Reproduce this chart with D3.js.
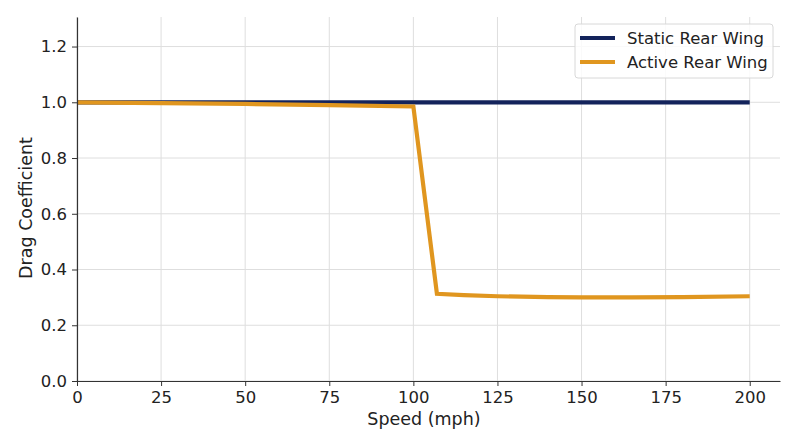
<!DOCTYPE html>
<html>
<head>
<meta charset="utf-8">
<script src="https://cdn.jsdelivr.net/npm/d3@7"></script>
<style>
  body { margin: 0; background: #fff; }
  svg { display: block; font-family: "DejaVu Sans", sans-serif; }
</style>
</head>
<body>
<div id="chart"></div>
<script>
// Data
const staticSpeed = [0, 200];
const staticDrag = [1.0, 1.0];
const activeSpeed = [0, 25, 50, 75, 100, 107, 115, 125, 140, 150, 165, 180, 200];
const activeDrag = [1.0, 0.997, 0.994, 0.99, 0.985, 0.313, 0.308, 0.304, 0.301, 0.3, 0.3, 0.301, 0.304];
const xTicks = [0, 25, 50, 75, 100, 125, 150, 175, 200];
const yTicks = [0, 0.2, 0.4, 0.6, 0.8, 1.0, 1.2];
const seriesNames = ["Static Rear Wing", "Active Rear Wing"];
const seriesColors = ["#13235b", "#e0961f"];

const width = 800, height = 447;
const marginLeft = 77, marginRight = 20, marginTop = 17, marginBottom = 66;

const x = d3.scaleLinear().domain([0, 209]).range([marginLeft, width - marginRight]);
const y = d3.scaleLinear().domain([0, 1.306]).range([height - marginBottom, marginTop]);

const svg = d3.select("#chart").append("svg")
  .attr("width", width)
  .attr("height", height);

// Grid
svg.append("g")
  .selectAll("line")
  .data(xTicks)
  .join("line")
  .attr("x1", d => x(d)).attr("x2", d => x(d))
  .attr("y1", y(0)).attr("y2", marginTop)
  .attr("stroke", "#dedede").attr("stroke-width", 1);
svg.append("g")
  .selectAll("line")
  .data(yTicks)
  .join("line")
  .attr("x1", marginLeft).attr("x2", width - marginRight)
  .attr("y1", d => y(d)).attr("y2", d => y(d))
  .attr("stroke", "#dedede").attr("stroke-width", 1);

// Lines
const series = [
  staticSpeed.map((s, i) => [s, staticDrag[i]]),
  activeSpeed.map((s, i) => [s, activeDrag[i]])
];
const line = d3.line().x(d => x(d[0])).y(d => y(d[1]));
svg.append("g")
  .selectAll("path")
  .data(series)
  .join("path")
  .attr("d", line)
  .attr("fill", "none")
  .attr("stroke", (d, i) => seriesColors[i])
  .attr("stroke-width", 4.2)
  .attr("stroke-linejoin", "miter");

// Axes
const styleAxis = g => {
  g.select(".domain").attr("stroke", "#333").attr("stroke-width", 1.2);
  g.selectAll(".tick line").attr("stroke", "#333");
  g.selectAll(".tick text").attr("fill", "#222").attr("font-size", "16.5px")
    .attr("font-family", "DejaVu Sans, sans-serif");
};
svg.append("g")
  .attr("transform", `translate(0,${y(0)})`)
  .call(d3.axisBottom(x).tickValues(xTicks).tickSize(5).tickPadding(5).tickSizeOuter(0))
  .call(styleAxis);
svg.append("g")
  .attr("transform", `translate(${marginLeft},0)`)
  .call(d3.axisLeft(y).tickValues(yTicks).tickFormat(d3.format(".1f")).tickSize(5).tickPadding(5).tickSizeOuter(0))
  .call(styleAxis);

// Axis labels
svg.append("text")
  .attr("x", 424)
  .attr("y", 425)
  .attr("text-anchor", "middle")
  .attr("font-size", "17.5px")
  .attr("fill", "#222")
  .text("Speed (mph)");
svg.append("text")
  .attr("transform", "translate(32,208) rotate(-90)")
  .attr("text-anchor", "middle")
  .attr("font-size", "17.5px")
  .attr("fill", "#222")
  .text("Drag Coefficient");

// Legend
const legend = svg.append("g").attr("transform", "translate(575,24)");
legend.append("rect")
  .attr("width", 198).attr("height", 54).attr("rx", 3)
  .attr("fill", "rgba(255,255,255,0.85)")
  .attr("stroke", "#d8d8d8");
const items = legend.selectAll("g")
  .data(seriesNames)
  .join("g")
  .attr("transform", (d, i) => `translate(0,${14 + i * 24})`);
items.append("line")
  .attr("x1", 5).attr("x2", 40)
  .attr("stroke", (d, i) => seriesColors[i])
  .attr("stroke-width", 4.2);
items.append("text")
  .attr("x", 52).attr("dy", "0.35em")
  .attr("font-size", "16.5px")
  .attr("fill", "#222")
  .text(d => d);
</script>
</body>
</html>
